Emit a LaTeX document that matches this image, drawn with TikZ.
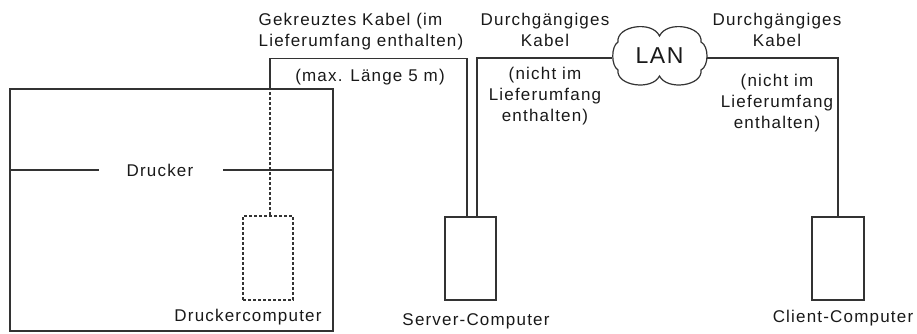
\documentclass[tikz,border=0pt]{standalone}
\usepackage{fontspec}
\setmainfont{Liberation Sans}[LetterSpace=7]
\begin{document}
\begin{tikzpicture}[x=1pt,y=-1pt,
  line width=1.4pt, draw=black!80,
  txt/.style={font=\fontsize{17}{21}\selectfont, text=black!90, inner sep=0pt, align=center},
  box/.style={draw, rectangle, inner sep=0pt},
  dotline/.style={dash pattern=on 3pt off 2pt, line width=1.3pt},
  cable/.style={draw=black!80, line width=1.4pt}]
\useasboundingbox (0,0) rectangle (917,333);
% boxes
\node[box, minimum width=323pt, minimum height=242pt] (drucker) at (171.5,210) {};
\node[box, dotline, minimum width=50pt, minimum height=84pt] (dpc) at (268,258) {};
\node[box, minimum width=51pt, minimum height=83pt] (server) at (470.5,258.5) {};
\node[box, minimum width=52pt, minimum height=83pt] (client) at (838,258.5) {};
% LAN cloud
\draw[line width=1.2pt] (618,42) .. controls (616,26) and (652,20) .. (659.5,36)
  .. controls (667,20) and (703,26) .. (701,42)
  .. controls (709,46) and (709,66) .. (701,70)
  .. controls (703,86) and (667,91) .. (659.5,76)
  .. controls (652,91) and (616,86) .. (618,70)
  .. controls (611,66) and (611,46) .. cycle;
\node[font=\fontsize{23}{26}\selectfont, text=black!90, inner sep=0pt,
      minimum width=94pt, minimum height=56pt] (lan) at (659.5,56) {LAN};
% labels
\node[txt] (ldrucker) at (160,170) {Drucker};
\node[txt] (ldpc) at (248,317) {Druckercomputer};
\node[txt] (lserver) at (476,321) {Server-Computer};
\node[txt] (lclient) at (843,318) {Client-Computer};
\node[txt, align=left, anchor=west] (lgek) at (258,32) {Gekreuztes Kabel (im\\Lieferumfang enthalten)};
\node[txt] (lmax) at (370,77) {(max. Länge 5 m)};
\node[txt] (ld1) at (545,30) {Durchgängiges\\Kabel};
\node[txt] (ln1) at (545,96) {(nicht im\\Lieferumfang\\enthalten)};
\node[txt] (ld2) at (777,30) {Durchgängiges\\Kabel};
\node[txt] (ln2) at (777,103) {(nicht im\\Lieferumfang\\enthalten)};
% drucker separator line
\draw (drucker.west |- ldrucker) -- ++(90,0);
\draw (drucker.east |- ldrucker) -- ++(-111,0);
% crossover cable
\coordinate (pin) at ([xshift=2pt]dpc.north);
\coordinate (ptop) at (pin |- drucker.north);
\coordinate (sl) at ([xshift=-3.5pt]server.north);
\coordinate (sr) at ([xshift=6.5pt]server.north);
\draw[dotline] (pin) -- (ptop);
\draw[cable] (ptop) -- ++(0,-30) -| (sl);
% straight cables
\draw[cable] (sr) |- ([yshift=-2pt]lan.west);
\draw[cable] ([yshift=-2pt]lan.east) -| (client.north);
\end{tikzpicture}
\end{document}
